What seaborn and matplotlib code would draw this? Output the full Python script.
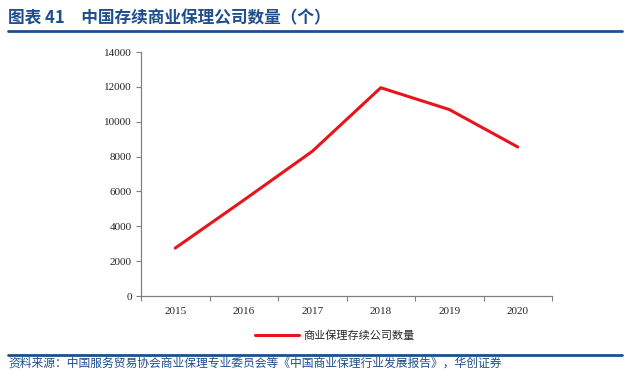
import matplotlib
matplotlib.use("Agg")
import matplotlib.pyplot as plt
import seaborn as sns
import pandas as pd
import numpy as np
from matplotlib.lines import Line2D

years = ["2015", "2016", "2017", "2018", "2019", "2020"]
counts = [2750, 5500, 8300, 11950, 10700, 8550]
series_name = "商业保理存续公司数量"
title = "图表 41　中国存续商业保理公司数量（个）"
source = "资料来源：中国服务贸易协会商业保理专业委员会等《中国商业保理行业发展报告》，华创证券"
yticks = [0, 2000, 4000, 6000, 8000, 10000, 12000, 14000]

sns.set_theme(style="white")
plt.rcParams['font.family'] = ['Noto Sans CJK SC', 'DejaVu Sans']

df = pd.DataFrame({"pos": np.arange(len(years)), "year": years, "count": counts})

fig = plt.figure(figsize=(6.3, 3.71), dpi=100)
ax = fig.add_axes([141/630, 1-296/371, (552-141)/630, (296-52)/371])

sns.lineplot(data=df, x="pos", y="count", ax=ax, color="#E8141C", linewidth=2.2, legend=False)

ax.set_xlim(-0.5, len(years)-0.5)
ax.set_ylim(0, 14000)
ax.set_yticks(yticks)
ax.set_yticklabels([str(v) for v in yticks], fontfamily="Liberation Serif", fontsize=8)
ax.set_xticks(df["pos"])
ax.set_xticklabels(years, fontfamily="Liberation Serif", fontsize=8)
ax.set_xticks(np.arange(-0.5, len(years), 1.0), minor=True)
ax.tick_params(axis="x", which="major", length=0, pad=8)
ax.tick_params(axis="x", which="minor", length=3.5, width=0.8, color="#808080", direction="out", bottom=True)
ax.tick_params(axis="y", length=3.5, width=0.8, color="#808080", direction="out", left=True, pad=3)
ax.set_xlabel("")
ax.set_ylabel("")
for s in ["top", "right"]:
    ax.spines[s].set_visible(False)
for s in ["left", "bottom"]:
    ax.spines[s].set_color("#808080")
    ax.spines[s].set_linewidth(0.9)

handle = Line2D([0], [0], color="#E8141C", linewidth=2.2)
fig.legend([handle], [series_name], loc="center", bbox_to_anchor=(335/630, 1-336/371),
           frameon=False, fontsize=8, handlelength=4.0, handletextpad=0.4)

blue = "#1F4E8F"
fig.text(8/630, 1-18/371, title, fontsize=12, fontweight="bold", color=blue, va="center", ha="left")
fig.add_artist(Line2D([8/630, 622/630], [1-31/371, 1-31/371], color=blue, linewidth=2))
fig.add_artist(Line2D([8/630, 622/630], [1-355/371, 1-355/371], color=blue, linewidth=2))
fig.text(8/630, 1-370/371, source, fontsize=8.5, color=blue, va="bottom", ha="left", fontstyle="italic")

fig.savefig("out.png", dpi=100)
